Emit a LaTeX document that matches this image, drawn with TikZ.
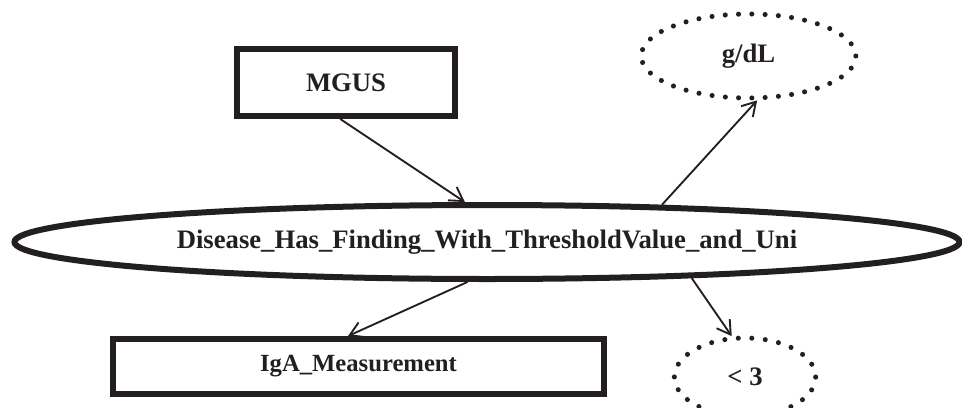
\documentclass[tikz,border=0pt]{standalone}
\usepackage{fontspec}
\setmainfont{Liberation Serif}
\usetikzlibrary{arrows.meta}
\usetikzlibrary{shapes.geometric}
\definecolor{inkBlack}{HTML}{231F20}
\tikzset{
	classBox/.style={rectangle, draw=inkBlack, line width=4.7pt, inner sep=0pt, text=inkBlack, font=\bfseries\fontsize{20}{22}\selectfont},
	relEllipse/.style={ellipse, draw=inkBlack, line width=4.5pt, inner sep=0pt, text=inkBlack, font=\bfseries\fontsize{20}{22}\selectfont},
	valueEllipse/.style={ellipse, draw=inkBlack, line width=3.8pt, line cap=round, inner sep=0pt, text=inkBlack, font=\bfseries\fontsize{20}{22}\selectfont},
	linkArrow/.style={draw=inkBlack, line width=1.4pt, -{Straight Barb[length=10pt,width=12pt]}}
}

\begin{document}
\begin{tikzpicture}[x=0.75pt, y=-0.75pt]

		\useasboundingbox (0,0) rectangle (962,407);

		% nodes
		\node[relEllipse, minimum width=708.75pt, minimum height=55.5pt] (hasFinding) at (487,242) {Disease\_Has\_Finding\_With\_ThresholdValue\_and\_Uni};
		\node[classBox, minimum width=163.5pt, minimum height=50pt] (mgus) at (346,82.5) {MGUS};
		\node[classBox, minimum width=368pt, minimum height=41pt, font=\bfseries\fontsize{18.5}{22}\selectfont] (igaMeasure) at (358.5,366.5) {IgA\_Measurement};
		\node[valueEllipse, dash pattern=on 0pt off 9.97pt, minimum width=161pt, minimum height=63pt] (unitVal) at (748.5,56) {g/dL};
		\node[valueEllipse, dash pattern=on 0pt off 10.14pt, minimum width=106pt, minimum height=58.5pt] (thresholdVal) at (745,377) {< 3};

		% links
		\draw[linkArrow] (mgus.261) -- (hasFinding.119);
		\draw[linkArrow] (hasFinding.12) -- (unitVal.281);
		\draw[linkArrow] (hasFinding.244) -- (igaMeasure.109);
		\draw[linkArrow] (hasFinding.350) -- (thresholdVal.108);

	\end{tikzpicture}
\end{document}
